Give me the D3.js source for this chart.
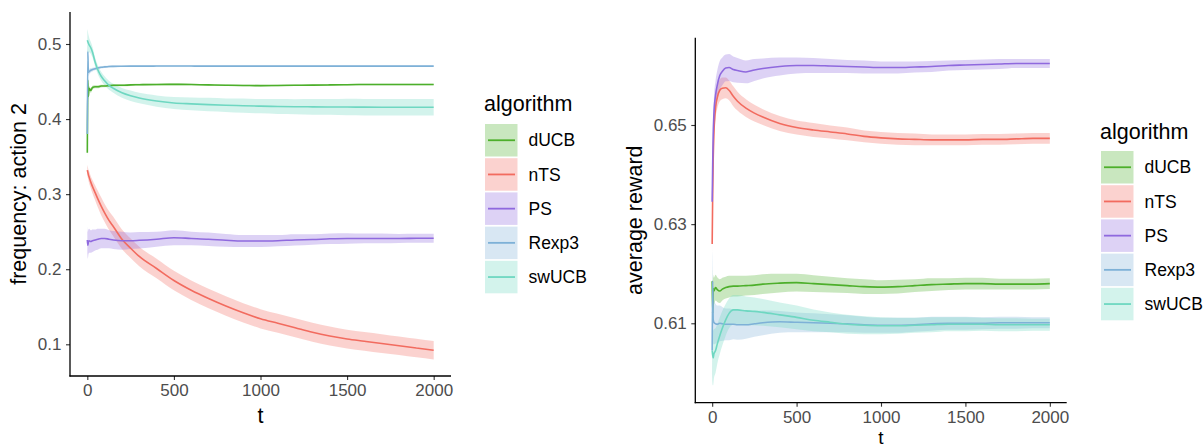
<!DOCTYPE html>
<html>
<head>
<meta charset="utf-8">
<script src="https://cdn.jsdelivr.net/npm/d3@7"></script>
<style>
  html, body { margin: 0; padding: 0; background: #fff; }
  svg { display: block; }
  text { font-family: "Liberation Sans", Arial, Helvetica, sans-serif; }
</style>
</head>
<body>
<svg id="chart" width="1204" height="448"></svg>
<script>
// ---------- data ----------
const algorithms = ["dUCB", "nTS", "PS", "Rexp3", "swUCB"];
const lineColors = ["#4DAF2B", "#F26B5F", "#8F69DE", "#7EB1D7", "#6ED7C1"];
const tSteps = [0,3,6,10,20,30,45,60,80,100,125,150,200,250,300,400,500,600,700,800,900,1000,1100,1200,1300,1400,1500,1600,1700,1800,1900,2000];
const xTicks = [0, 500, 1000, 1500, 2000];

// panel 1: frequency of action 2
const freqTicks = [0.1, 0.2, 0.3, 0.4, 0.5];
const freq_dUCB  = [0.355,0.452,0.43,0.441,0.438,0.442,0.443,0.443,0.444,0.444,0.4445,0.445,0.445,0.4455,0.4458,0.446,0.4462,0.446,0.4455,0.445,0.4448,0.4445,0.4448,0.445,0.4452,0.4455,0.4458,0.446,0.446,0.446,0.446,0.446];
const freq_dUCB_se = [0.006,0.005,0.004,0.003,0.003,0.0025,0.002,0.002,0.0018,0.0016,0.0015,0.0015,0.0014,0.0013,0.0012,0.0012,0.0011,0.0011,0.001,0.001,0.001,0.001,0.001,0.001,0.001,0.001,0.001,0.001,0.001,0.001,0.001,0.001];
const freq_nTS   = [0.332,0.329,0.326,0.323,0.316,0.31,0.302,0.294,0.284,0.275,0.265,0.257,0.240,0.228,0.217,0.201,0.185,0.172,0.161,0.151,0.142,0.134,0.128,0.122,0.116,0.111,0.107,0.104,0.101,0.098,0.095,0.092];
const freq_nTS_se = [0.007,0.007,0.007,0.008,0.008,0.009,0.01,0.011,0.012,0.012,0.0125,0.013,0.013,0.013,0.013,0.013,0.013,0.013,0.013,0.013,0.0128,0.0128,0.0127,0.0127,0.0126,0.0126,0.0125,0.0125,0.0125,0.0124,0.0124,0.0123];
const freq_PS    = [0.239,0.232,0.236,0.238,0.237,0.238,0.239,0.240,0.241,0.241,0.240,0.239,0.238,0.238,0.2385,0.240,0.242,0.241,0.240,0.2385,0.2375,0.2375,0.238,0.239,0.2395,0.2405,0.241,0.241,0.241,0.241,0.2412,0.2413];
const freq_PS_se = [0.018,0.018,0.017,0.016,0.015,0.015,0.014,0.014,0.013,0.013,0.012,0.012,0.012,0.011,0.011,0.010,0.010,0.009,0.009,0.0085,0.008,0.008,0.0075,0.0075,0.007,0.007,0.007,0.0065,0.0065,0.006,0.006,0.006];
const freq_Rexp3 = [0.38,0.49,0.462,0.463,0.465,0.466,0.467,0.468,0.469,0.4695,0.47,0.4702,0.4704,0.4705,0.4705,0.4706,0.4706,0.4706,0.4705,0.4705,0.4705,0.4705,0.4705,0.4705,0.4705,0.4705,0.4705,0.4705,0.4705,0.4705,0.4705,0.4705];
const freq_Rexp3_se = [0.01,0.008,0.005,0.004,0.003,0.0025,0.002,0.0018,0.0015,0.0014,0.0013,0.0012,0.0011,0.001,0.001,0.0009,0.0009,0.0008,0.0008,0.0008,0.0008,0.0007,0.0007,0.0007,0.0007,0.0007,0.0007,0.0007,0.0007,0.0007,0.0007,0.0007];
const freq_swUCB = [0.505,0.503,0.501,0.499,0.495,0.489,0.476,0.466,0.457,0.451,0.445,0.441,0.435,0.431,0.428,0.424,0.4215,0.4203,0.4193,0.4185,0.4178,0.4172,0.4168,0.4165,0.4163,0.4161,0.416,0.4159,0.4158,0.4157,0.4157,0.4157];
const freq_swUCB_se = [0.015,0.014,0.012,0.01,0.008,0.007,0.006,0.006,0.006,0.006,0.006,0.006,0.0065,0.007,0.007,0.0075,0.008,0.0085,0.009,0.009,0.0095,0.0095,0.01,0.01,0.0105,0.0105,0.011,0.011,0.011,0.011,0.011,0.011];

// panel 2: average reward
const rewTicks = [0.61, 0.63, 0.65];
const rew_dUCB  = [0.6185,0.612,0.617,0.6165,0.6172,0.6168,0.6165,0.6169,0.6172,0.6174,0.6175,0.6175,0.6176,0.6177,0.6179,0.6181,0.6182,0.618,0.6178,0.6176,0.6174,0.6173,0.6174,0.6176,0.6178,0.6179,0.618,0.618,0.6179,0.6179,0.6179,0.618];
const rew_dUCB_se = [0.003,0.003,0.0028,0.0027,0.0026,0.0025,0.0024,0.0023,0.0022,0.0022,0.0021,0.0021,0.002,0.002,0.002,0.0019,0.0018,0.0017,0.0016,0.0015,0.0015,0.0014,0.0014,0.0013,0.0013,0.0012,0.0012,0.0012,0.0011,0.0011,0.0011,0.0011];
const rew_nTS   = [0.626,0.636,0.643,0.648,0.6535,0.6555,0.657,0.6574,0.6575,0.657,0.6558,0.6548,0.6534,0.6524,0.6516,0.6503,0.6495,0.649,0.6486,0.6482,0.6477,0.6474,0.6472,0.6471,0.647,0.647,0.647,0.6471,0.6471,0.6472,0.6473,0.6473];
const rew_nTS_se = [0.002,0.002,0.0022,0.0022,0.0022,0.0022,0.0022,0.0022,0.0021,0.002,0.002,0.0019,0.0018,0.0017,0.0016,0.0015,0.0014,0.0014,0.0013,0.0013,0.0012,0.0012,0.0012,0.0012,0.0011,0.0011,0.0011,0.0011,0.0011,0.0011,0.0011,0.0011];
const rew_PS    = [0.6345,0.642,0.648,0.652,0.656,0.658,0.66,0.6608,0.6615,0.6616,0.6612,0.661,0.6607,0.6611,0.6614,0.6618,0.662,0.662,0.6619,0.6618,0.6617,0.6616,0.6616,0.6617,0.6618,0.662,0.6621,0.6622,0.6623,0.6624,0.6624,0.6624];
const rew_PS_se = [0.004,0.004,0.0035,0.0032,0.003,0.003,0.0029,0.0028,0.0027,0.0027,0.0026,0.0025,0.0023,0.0022,0.002,0.0018,0.0016,0.0015,0.0014,0.0013,0.0013,0.0012,0.0012,0.0011,0.0011,0.001,0.001,0.001,0.001,0.0009,0.0009,0.0009];
const rew_Rexp3 = [0.6045,0.6185,0.6108,0.6102,0.6099,0.6098,0.61,0.6099,0.6098,0.6098,0.6098,0.6097,0.6097,0.6099,0.6101,0.6103,0.6102,0.6101,0.61,0.6099,0.6097,0.6096,0.6096,0.6097,0.6099,0.61,0.61,0.61,0.6101,0.6101,0.6101,0.6101];
const rew_Rexp3_se = [0.006,0.006,0.005,0.0045,0.004,0.0038,0.0036,0.0034,0.0032,0.0032,0.003,0.003,0.0028,0.0026,0.0025,0.0022,0.002,0.0019,0.0018,0.0017,0.0016,0.0015,0.0015,0.0014,0.0014,0.0013,0.0013,0.0012,0.0012,0.0012,0.0011,0.0011];
const rew_swUCB = [0.6045,0.6035,0.603,0.6038,0.6045,0.6058,0.6075,0.609,0.6107,0.612,0.6127,0.6127,0.6125,0.6124,0.6122,0.6117,0.6112,0.6106,0.6102,0.6098,0.6096,0.6095,0.6095,0.6096,0.6097,0.6098,0.6098,0.6098,0.6097,0.6097,0.6097,0.6097];
const rew_swUCB_se = [0.006,0.006,0.0055,0.005,0.0045,0.004,0.0037,0.0035,0.0032,0.003,0.003,0.003,0.0029,0.0028,0.0027,0.0025,0.0024,0.0022,0.002,0.0019,0.0018,0.0017,0.0016,0.0015,0.0015,0.0014,0.0014,0.0013,0.0013,0.0013,0.0012,0.0012];

// ---------- drawing ----------
const svg = d3.select("#chart");
svg.append("rect").attr("width", 1204).attr("height", 448).attr("fill", "#fff");

const FONT_TICK = 17;
const FONT_TITLE = 21.5;
const FILL_ALPHA = 0.3;

function panel(cfg) {
  const x = d3.scaleLinear().domain([-100, 2100]).range([cfg.left, cfg.right]);
  const y = d3.scaleLinear().domain(cfg.yDomain).range([cfg.bottom, cfg.top]);
  const g = svg.append("g");

  const series = algorithms.map((name, i) => ({
    name, color: lineColors[i],
    pts: tSteps.map((t, j) => ({ t, m: cfg.means[i][j], s: cfg.ses[i][j] }))
  }));

  const area = d3.area().x(d => x(d.t)).y0(d => y(d.m - d.s)).y1(d => y(d.m + d.s)).curve(d3.curveMonotoneX);
  const line = d3.line().x(d => x(d.t)).y(d => y(d.m)).curve(d3.curveMonotoneX);

  g.selectAll("path.band").data(series).join("path")
    .attr("class", "band").attr("d", d => area(d.pts))
    .attr("fill", d => d.color).attr("fill-opacity", FILL_ALPHA).attr("stroke", "none");
  g.selectAll("path.mean").data(series).join("path")
    .attr("class", "mean").attr("d", d => line(d.pts))
    .attr("fill", "none").attr("stroke", d => d.color).attr("stroke-width", 1.6);

  // axes
  const xAxis = g.append("g").attr("transform", `translate(0,${cfg.bottom})`)
    .call(d3.axisBottom(x).tickValues(xTicks).tickSize(4).tickPadding(4).tickFormat(d3.format("d")));
  const yAxis = g.append("g").attr("transform", `translate(${cfg.left},0)`)
    .call(d3.axisLeft(y).tickValues(cfg.yTicks).tickSize(4).tickPadding(4.5).tickFormat(d3.format(cfg.fmt)));
  [xAxis, yAxis].forEach(a => {
    a.select(".domain").remove();
    a.selectAll(".tick line").attr("stroke", "#333").attr("stroke-width", 1.1);
    a.selectAll(".tick text").attr("fill", "#4D4D4D").style("font-size", FONT_TICK + "px")
      .style("font-family", '"Liberation Sans", Arial, sans-serif');
  });
  xAxis.selectAll(".tick text").attr("dy", "0.71em");
  // axis lines
  g.append("line").attr("x1", cfg.left).attr("x2", cfg.left).attr("y1", cfg.top).attr("y2", cfg.bottom + 0.6)
    .attr("stroke", "#000").attr("stroke-width", 1.3);
  g.append("line").attr("x1", cfg.left - 0.6).attr("x2", cfg.right).attr("y1", cfg.bottom).attr("y2", cfg.bottom)
    .attr("stroke", "#000").attr("stroke-width", 1.3);

  // titles
  g.append("text").attr("x", (cfg.left + cfg.right) / 2).attr("y", cfg.xlabY)
    .attr("text-anchor", "middle").style("font-size", cfg.xlabSize + "px").attr("fill", "#000").text("t");
  g.append("text").attr("transform", `translate(${cfg.ylabX},${(cfg.top + cfg.bottom) / 2}) rotate(-90)`)
    .attr("text-anchor", "middle").style("font-size", FONT_TITLE + "px").attr("fill", "#000").text(cfg.ylabel);

  // legend
  const lg = svg.append("g");
  lg.append("text").attr("x", cfg.legX).attr("y", cfg.legTitleY).style("font-size", FONT_TITLE + "px")
    .attr("fill", "#000").text("algorithm");
  const keys = lg.selectAll("g.key").data(series).join("g").attr("class", "key")
    .attr("transform", (d, i) => `translate(${cfg.legX + 1},${cfg.legKeyY + i * 34.2})`);
  keys.append("rect").attr("width", 32.5).attr("height", 32.5)
    .attr("fill", d => d.color).attr("fill-opacity", FILL_ALPHA);
  keys.append("line").attr("x1", 3).attr("x2", 30).attr("y1", 16.25).attr("y2", 16.25)
    .attr("stroke", d => d.color).attr("stroke-width", 1.8);
  keys.append("text").attr("x", 43.5).attr("y", 16.25 + 6.2).style("font-size", "17.5px")
    .attr("fill", "#000").text(d => d.name);
}

panel({
  left: 70, right: 451, top: 12, bottom: 376,
  yDomain: [0.05778, 0.54262], yTicks: freqTicks, fmt: ".1f",
  ylabel: "frequency: action 2", ylabX: 25.5, xlabY: 423.3, xlabSize: FONT_TITLE,
  means: [freq_dUCB, freq_nTS, freq_PS, freq_Rexp3, freq_swUCB],
  ses: [freq_dUCB_se, freq_nTS_se, freq_PS_se, freq_Rexp3_se, freq_swUCB_se],
  legX: 484, legTitleY: 110.5, legKeyY: 124
});

panel({
  left: 695.3, right: 1066.7, top: 37.7, bottom: 402.7,
  yDomain: [0.59398, 0.66761], yTicks: rewTicks, fmt: ".2f",
  ylabel: "average reward", ylabX: 642, xlabY: 444, xlabSize: 19,
  means: [rew_dUCB, rew_nTS, rew_PS, rew_Rexp3, rew_swUCB],
  ses: [rew_dUCB_se, rew_nTS_se, rew_PS_se, rew_Rexp3_se, rew_swUCB_se],
  legX: 1100, legTitleY: 139, legKeyY: 151
});
</script>
</body>
</html>
